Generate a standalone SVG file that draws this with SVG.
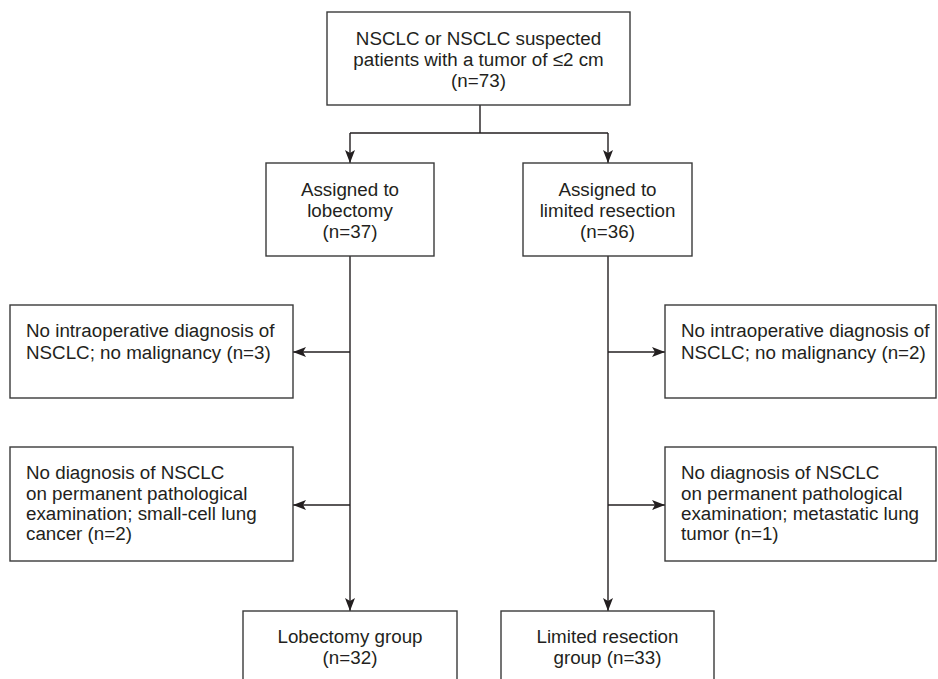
<svg xmlns="http://www.w3.org/2000/svg" width="938" height="679" viewBox="0 0 938 679">
<defs>
<marker id="ah" viewBox="0 0 13 10" refX="13" refY="5" markerWidth="13" markerHeight="10" markerUnits="userSpaceOnUse" orient="auto">
<path d="M0,0 L13,5 L0,10 L3,5 Z" fill="#231f20"/>
</marker>
<style>
.box{fill:#fff;stroke:#3a3a3a;stroke-width:1.4}
.t{font-family:"Liberation Sans",Arial,Helvetica,sans-serif;font-size:18.8px;fill:#231f20}
.c{text-anchor:middle}
.ln{fill:none;stroke:#231f20;stroke-width:1.4}
.ar{fill:none;stroke:#231f20;stroke-width:1.4;marker-end:url(#ah)}
</style>
</defs>
<rect width="938" height="679" fill="#fff"/>
<g id="connectors">
<path class="ln" d="M480,105 V133 M350,133 H608"/>
<path class="ar" d="M350,133 V163"/>
<path class="ar" d="M608,133 V163"/>
<path class="ar" d="M350,256 V611"/>
<path class="ar" d="M608,256 V611"/>
<path class="ar" d="M350,352 H293"/>
<path class="ar" d="M350,505 H293"/>
<path class="ar" d="M608,352 H665"/>
<path class="ar" d="M608,505 H665"/>
</g>
<g id="n-top">
<rect class="box" x="327" y="12" width="303" height="93"/>
<text class="t c" x="478.5"><tspan x="478.5" y="45">NSCLC or NSCLC suspected</tspan><tspan x="478.5" y="66">patients with a tumor of ≤2 cm</tspan><tspan x="478.5" y="87">(n=73)</tspan></text>
</g>
<g id="n-lob">
<rect class="box" x="266" y="163" width="168" height="93"/>
<text class="t c"><tspan x="350" y="196">Assigned to</tspan><tspan x="350" y="217">lobectomy</tspan><tspan x="350" y="238">(n=37)</tspan></text>
</g>
<g id="n-lim">
<rect class="box" x="523" y="163" width="169" height="93"/>
<text class="t c"><tspan x="607.5" y="196">Assigned to</tspan><tspan x="607.5" y="217">limited resection</tspan><tspan x="607.5" y="238">(n=36)</tspan></text>
</g>
<g id="n-l1">
<rect class="box" x="10" y="305" width="283" height="93"/>
<text class="t"><tspan x="26" y="337">No intraoperative diagnosis of</tspan><tspan x="26" y="359">NSCLC; no malignancy (n=3)</tspan></text>
</g>
<g id="n-l2">
<rect class="box" x="10" y="447" width="283" height="114"/>
<text class="t"><tspan x="26" y="479">No diagnosis of NSCLC</tspan><tspan x="26" y="500">on permanent pathological</tspan><tspan x="26" y="520">examination; small-cell lung</tspan><tspan x="26" y="540">cancer (n=2)</tspan></text>
</g>
<g id="n-r1">
<rect class="box" x="665" y="305" width="271" height="93"/>
<text class="t"><tspan x="681" y="337">No intraoperative diagnosis of</tspan><tspan x="681" y="359">NSCLC; no malignancy (n=2)</tspan></text>
</g>
<g id="n-r2">
<rect class="box" x="665" y="447" width="271" height="114"/>
<text class="t"><tspan x="681" y="479">No diagnosis of NSCLC</tspan><tspan x="681" y="500">on permanent pathological</tspan><tspan x="681" y="520">examination; metastatic lung</tspan><tspan x="681" y="540">tumor (n=1)</tspan></text>
</g>
<g id="n-lobg">
<rect class="box" x="243" y="611" width="214" height="80"/>
<text class="t c"><tspan x="350" y="643">Lobectomy group</tspan><tspan x="350" y="664">(n=32)</tspan></text>
</g>
<g id="n-limg">
<rect class="box" x="501" y="611" width="213" height="80"/>
<text class="t c"><tspan x="607.5" y="643">Limited resection</tspan><tspan x="607.5" y="664">group (n=33)</tspan></text>
</g>
</svg>
